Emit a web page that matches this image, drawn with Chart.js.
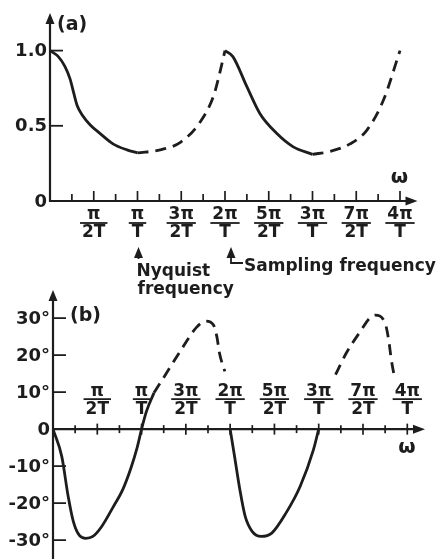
<!DOCTYPE html>
<html>
<head>
<meta charset="utf-8">
<script src="https://cdn.jsdelivr.net/npm/chart.js@4.4.1/dist/chart.umd.min.js"></script>
<style>
  body { margin: 0; background: #fff; }
  .wrap { position: relative; width: 438px; height: 559px; }
  canvas { position: absolute; left: 0; }
  #gainChart { top: 0; }
  #phaseChart { top: 280px; }
</style>
</head>
<body>
<div class="wrap">
  <canvas id="gainChart" width="438" height="300"></canvas>
  <canvas id="phaseChart" width="438" height="279"></canvas>
</div>
<script>
// x is in units of pi/T
const xMajor = [0.5, 1, 1.5, 2, 2.5, 3, 3.5, 4];
const xMinor = [0.25, 0.75, 1.25, 1.75, 2.25, 2.75, 3.25, 3.75];
const xNum = ["π", "π", "3π", "2π", "5π", "3π", "7π", "4π"];
const xDen = ["2T", "T", "2T", "T", "2T", "T", "2T", "T"];

// (a) gain
const gainTicks = [1.0, 0.5, 0];
const gainLabels = ["1.0", "0.5", "0"];
const gainSolid1X = [0, 0.095, 0.17, 0.23, 0.27, 0.31, 0.37, 0.46, 0.57, 0.72, 0.88, 1.0];
const gainSolid1Y = [1.0, 0.96, 0.895, 0.81, 0.72, 0.635, 0.57, 0.505, 0.45, 0.38, 0.34, 0.32];
const gainDashed1X = [1.0, 1.26, 1.49, 1.71, 1.87, 1.96, 2.0];
const gainDashed1Y = [0.32, 0.34, 0.39, 0.52, 0.70, 0.90, 1.0];
const gainSolid2X = [2.0, 2.09, 2.25, 2.40, 2.59, 2.78, 3.0];
const gainSolid2Y = [1.0, 0.96, 0.76, 0.58, 0.45, 0.36, 0.31];
const gainDashed2X = [3.0, 3.2, 3.43, 3.62, 3.81, 4.0];
const gainDashed2Y = [0.31, 0.33, 0.38, 0.47, 0.67, 1.0];

// (b) phase, degrees
const phaseTicks = [30, 20, 10, 0, -10, -20, -30];
const phaseLabels = ["30°", "20°", "10°", "0", "-10°", "-20°", "-30°"];
const phaseSolid1X = [0, 0.1, 0.17, 0.23, 0.3, 0.37, 0.45, 0.55, 0.68, 0.79, 0.88, 0.95, 1.0, 1.055, 1.14];
const phaseSolid1Y = [0, -7.5, -18, -25, -28.8, -29.5, -29, -26.3, -21, -16.2, -10.5, -5, 0, 4.8, 9.8];
const phaseDashed1X = [1.14, 1.28, 1.47, 1.62, 1.73, 1.81, 1.85, 1.88, 1.94];
const phaseDashed1Y = [9.8, 15.1, 22.3, 27.5, 29.2, 28.2, 25, 20.5, 15.6];
const phaseSolid2X = [2.0, 2.05, 2.11, 2.17, 2.25, 2.35, 2.47, 2.63, 2.79, 2.94, 3.0];
const phaseSolid2Y = [0, -7.4, -16.4, -23.6, -27.7, -29, -28.1, -22.7, -15.5, -5.6, 0];
const phaseDashed2X = [3.19, 3.31, 3.47, 3.58, 3.64, 3.75, 3.79, 3.82, 3.86];
const phaseDashed2Y = [14.7, 20.5, 26.4, 30.1, 30.8, 28.6, 24.1, 18.7, 13.5];

// notes under (a)
const noteAt = [1, 2];
const noteText = [["Nyquist", "frequency"], ["Sampling frequency"]];

const ink = "#1d1d1d";
const face = "DejaVu Sans";

const pts = (xs, ys) => xs.map((x, i) => ({ x: x, y: ys[i] }));

function seg(xs, ys, dashed) {
  return {
    data: pts(xs, ys),
    borderColor: ink,
    borderWidth: 2.8,
    borderDash: dashed ? [11, 7] : [],
    pointRadius: 0,
    cubicInterpolationMode: "monotone",
    fill: false,
  };
}

function line(ctx, x1, y1, x2, y2) {
  ctx.beginPath();
  ctx.moveTo(x1, y1);
  ctx.lineTo(x2, y2);
  ctx.stroke();
}

function arrowUp(ctx, x, y) {
  ctx.beginPath();
  ctx.moveTo(x, y);
  ctx.lineTo(x - 4.5, y + 11);
  ctx.lineTo(x + 4.5, y + 11);
  ctx.closePath();
  ctx.fill();
}

function arrowRight(ctx, x, y) {
  ctx.beginPath();
  ctx.moveTo(x, y);
  ctx.lineTo(x - 12, y - 4.5);
  ctx.lineTo(x - 12, y + 4.5);
  ctx.closePath();
  ctx.fill();
}

// axes, ticks, fraction labels and notes drawn off the chart's scales
const sketchAxes = {
  id: "sketchAxes",
  afterDatasetsDraw(chart, args, o) {
    const ctx = chart.ctx;
    const sx = chart.scales.x, sy = chart.scales.y, a = chart.chartArea;
    const x0 = sx.getPixelForValue(0), y0 = sy.getPixelForValue(0);
    ctx.save();
    ctx.strokeStyle = ink;
    ctx.fillStyle = ink;
    ctx.lineWidth = 2.2;

    line(ctx, x0, o.fullY ? a.bottom : y0 + 1, x0, a.top + 8);
    line(ctx, x0 - 1, y0, a.right - 8, y0);
    arrowUp(ctx, x0, a.top);
    arrowRight(ctx, a.right, y0);

    // y ticks + labels
    ctx.font = "bold 18px " + face;
    ctx.textAlign = "right";
    ctx.textBaseline = "middle";
    o.yTicks.forEach((v, i) => {
      const py = sy.getPixelForValue(v);
      ctx.lineWidth = 1.8;
      if (v !== 0) line(ctx, x0, py, x0 + 13, py);
      ctx.fillText(o.yLabels[i], x0 - 3, py + 1);
    });

    // x ticks
    ctx.lineWidth = 1.7;
    const tick = (v, len) => {
      const px = sx.getPixelForValue(v);
      if (o.cross) line(ctx, px, y0 - len / 2, px, y0 + len / 2);
      else line(ctx, px, y0, px, y0 - len);
    };
    xMinor.forEach(v => tick(v, o.cross ? 8 : 7));
    xMajor.forEach(v => tick(v, o.cross ? 11 : 10));

    // fraction labels
    ctx.font = "bold 17px " + face;
    ctx.textAlign = "center";
    xMajor.forEach((v, i) => {
      const px = sx.getPixelForValue(v);
      const yb = y0 + o.barOffset;
      const w = Math.max(ctx.measureText(xNum[i]).width, ctx.measureText(xDen[i]).width) + 4;
      ctx.fillText(xNum[i], px, yb - 8);
      ctx.fillText(xDen[i], px, yb + 10);
      ctx.fillRect(px - w / 2, yb - 0.9, w, 1.8);
    });

    // omega + panel tag
    ctx.font = "bold 20px " + face;
    ctx.fillText("ω", a.right - 18, y0 + o.omegaDy);
    ctx.font = "bold 19px " + face;
    ctx.textAlign = "left";
    ctx.fillText(o.tag, x0 + o.tagDx, sy.getPixelForValue(o.tagAt) + o.tagDy);

    if (o.notes) {
      ctx.font = "bold 17px " + face;
      ctx.lineWidth = 1.8;
      ctx.textBaseline = "alphabetic";
      // Nyquist
      let px = sx.getPixelForValue(noteAt[0]) + 1;
      arrowUp(ctx, px, y0 + 46);
      line(ctx, px, y0 + 55, px, y0 + 58);
      ctx.fillText(noteText[0][0], px - 2, y0 + 75);
      ctx.fillText(noteText[0][1], px - 1, y0 + 93);
      // sampling
      px = sx.getPixelForValue(noteAt[1]) + 6;
      arrowUp(ctx, px, y0 + 46);
      ctx.beginPath();
      ctx.moveTo(px, y0 + 55);
      ctx.lineTo(px, y0 + 62);
      ctx.lineTo(px + 12, y0 + 62);
      ctx.stroke();
      ctx.fillText(noteText[1][0], px + 13, y0 + 70);
    }
    ctx.restore();
  },
};

const baseOptions = (yMin, yMax, pad, axes) => ({
  responsive: false,
  animation: false,
  devicePixelRatio: 1,
  layout: { padding: pad },
  scales: {
    x: { type: "linear", min: 0, max: 4.2, display: false },
    y: { type: "linear", min: yMin, max: yMax, display: false },
  },
  plugins: {
    legend: { display: false },
    tooltip: { enabled: false },
    sketchAxes: axes,
  },
});

new Chart(document.getElementById("gainChart"), {
  type: "line",
  data: {
    datasets: [
      seg(gainSolid1X, gainSolid1Y, false),
      seg(gainDashed1X, gainDashed1Y, true),
      seg(gainSolid2X, gainSolid2Y, false),
      seg(gainDashed2X, gainDashed2Y, true),
    ],
  },
  options: baseOptions(0, 1.25, { left: 50, right: 20.5, top: 13, bottom: 99 }, {
    fullY: false,
    cross: false,
    yTicks: gainTicks,
    yLabels: gainLabels,
    barOffset: 22,
    omegaDy: -23,
    tag: "(a)",
    tagAt: 1.25,
    tagDx: 7,
    tagDy: 12,
    notes: true,
  }),
  plugins: [sketchAxes],
});

new Chart(document.getElementById("phaseChart"), {
  type: "line",
  data: {
    datasets: [
      seg(phaseSolid1X, phaseSolid1Y, false),
      seg(phaseDashed1X, phaseDashed1Y, true),
      seg(phaseSolid2X, phaseSolid2Y, false),
      seg(phaseDashed2X, phaseDashed2Y, true),
    ],
  },
  options: baseOptions(-35.1, 37.6, { left: 53, right: 13, top: 10, bottom: 0 }, {
    fullY: true,
    cross: true,
    yTicks: phaseTicks,
    yLabels: phaseLabels,
    barOffset: -30,
    omegaDy: 19,
    tag: "(b)",
    tagAt: 30,
    tagDx: 17,
    tagDy: -2,
    notes: false,
  }),
  plugins: [sketchAxes],
});
</script>
</body>
</html>
